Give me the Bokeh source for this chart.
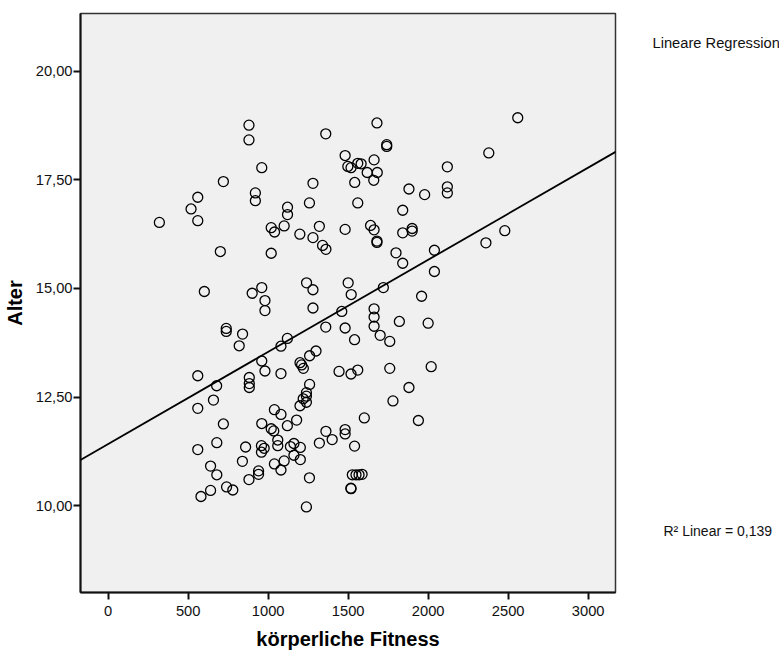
from bokeh.plotting import figure
from bokeh.layouts import row
from bokeh.models import Range1d, FixedTicker, Slope
from bokeh.core.properties import value
from bokeh.embed import file_html
from bokeh.resources import INLINE

# körperliche Fitness (x) and Alter (y)
fitness = [
    880, 880, 1360, 960, 720, 1280, 560, 920, 920, 518, 560, 320, 1258, 1121, 1121, 1100,
    1019, 1040, 1320, 1198, 1280, 1340, 1361, 701, 1019, 601, 900, 960, 980, 980, 1240,
    1280, 1280,
    1680, 2560, 1741, 1741, 2379, 1481, 1662, 1498, 1518, 1560, 1581, 2120, 1619, 1682,
    1660, 1541, 1880, 1978, 2120, 2120, 1560, 1841, 1481, 1640, 1662, 1841, 1900, 1900,
    1680, 1680, 1799, 1841, 2039, 2361, 2479, 2039, 1500, 1519, 1720, 1959,
    1662, 1662, 1662, 1820, 2000, 1460, 1481, 1540, 1700, 1760, 1443, 1518, 1560, 1760,
    2019, 1880, 1780, 1601, 1939, 1481, 1481, 1540, 1526, 1549, 1568, 1587, 1517, 1518,
    738, 738, 840, 819, 1360, 1120, 1080, 560, 678, 960, 980, 1080, 882, 882, 882, 1299,
    1259, 1199, 1209, 1220, 560, 658, 1259, 1239, 1239, 1219, 1239, 1199, 1039, 1080,
    1178, 720, 960, 1019, 1035, 1120, 1361, 1400, 1320, 1060, 1060, 1161, 1139, 1201,
    958, 975, 958, 859, 679, 560, 1161, 1100, 1201, 839, 1039, 1080, 640, 679, 940, 940,
    880, 1258, 740, 779, 640, 580, 1239,
]
alter = [
    18.76, 18.42, 18.56, 17.78, 17.46, 17.42, 17.10, 17.20, 17.02, 16.83, 16.56, 16.52,
    16.97, 16.87, 16.70, 16.44, 16.40, 16.30, 16.43, 16.25, 16.17, 15.99, 15.90, 15.85,
    15.81, 14.93, 14.89, 15.02, 14.72, 14.49, 15.13, 14.97, 14.55,
    18.81, 18.93, 18.31, 18.27, 18.12, 18.06, 17.96, 17.81, 17.78, 17.88, 17.87, 17.80,
    17.67, 17.67, 17.49, 17.44, 17.29, 17.16, 17.34, 17.20, 16.97, 16.80, 16.36, 16.45,
    16.35, 16.28, 16.38, 16.32, 16.09, 16.06, 15.82, 15.58, 15.88, 16.05, 16.33, 15.39,
    15.13, 14.86, 15.02, 14.82,
    14.53, 14.34, 14.13, 14.24, 14.20, 14.47, 14.09, 13.82, 13.92, 13.78, 13.09, 13.03,
    13.12, 13.16, 13.20, 12.72, 12.41, 12.02, 11.96, 11.75, 11.65, 11.37, 10.71, 10.71,
    10.71, 10.72, 10.40, 10.39,
    14.08, 14.01, 13.95, 13.68, 14.11, 13.85, 13.67, 12.99, 12.76, 13.33, 13.10, 13.04,
    12.95, 12.81, 12.72, 13.56, 13.45, 13.29, 13.24, 13.16, 12.24, 12.43, 12.79, 12.60,
    12.52, 12.46, 12.38, 12.30, 12.21, 12.10, 11.97, 11.88, 11.89, 11.77, 11.72, 11.84,
    11.71, 11.52, 11.44, 11.51, 11.38, 11.43, 11.36, 11.34, 11.38, 11.32, 11.23, 11.35,
    11.45, 11.29, 11.16, 11.03, 11.06, 11.02, 10.96, 10.82, 10.91, 10.71, 10.80, 10.72,
    10.60, 10.64, 10.43, 10.36, 10.35, 10.21, 9.97,
]

# regression line
reg_intercept = 11.42
reg_slope = 0.00212
r2_text = "R\u00b2 Linear = 0,139"
legend_text = "Lineare Regression"

x_ticks = [0, 500, 1000, 1500, 2000, 2500, 3000]
x_tick_labels = ["0", "500", "1000", "1500", "2000", "2500", "3000"]
y_ticks = [10, 12.5, 15, 17.5, 20]
y_tick_labels = ["10,00", "12,50", "15,00", "17,50", "20,00"]

FONT = "Liberation Sans"

p = figure(
    width=619, height=655, frame_width=535, frame_height=579,
    min_border_left=79, min_border_right=5, min_border_top=13, min_border_bottom=63,
    x_range=Range1d(-173, 3171), y_range=Range1d(8.0, 21.33),
    output_backend="svg", toolbar_location=None,
)
p.background_fill_color = "#f0f0f0"
p.border_fill_color = "white"
p.outline_line_color = "#333333"
p.outline_line_width = 1.5
p.xgrid.visible = False
p.ygrid.visible = False

for ax in (p.xaxis[0], p.yaxis[0]):
    ax.axis_line_color = "#111111"
    ax.axis_line_width = 2
    ax.major_tick_line_color = "#111111"
    ax.major_tick_line_width = 2
    ax.major_tick_out = 7
    ax.major_tick_in = 0
    ax.minor_tick_line_color = None
    ax.major_label_text_font = FONT
    ax.major_label_text_font_size = "14.7px"
    ax.major_label_text_color = "#111111"
    ax.axis_label_text_font = FONT
    ax.axis_label_text_font_style = "bold"
    ax.axis_label_text_font_size = "20px"
    ax.axis_label_text_color = "#000000"

p.xaxis.ticker = FixedTicker(ticks=x_ticks)
p.xaxis.major_label_overrides = dict(zip(x_ticks, x_tick_labels))
p.yaxis.ticker = FixedTicker(ticks=y_ticks)
p.yaxis.major_label_overrides = dict(zip(y_ticks, y_tick_labels))
p.xaxis.axis_label = "körperliche Fitness"
p.yaxis.axis_label = "Alter"
p.xaxis.major_label_standoff = 6
p.yaxis.major_label_standoff = 1
p.xaxis.axis_label_standoff = 9
p.yaxis.axis_label_standoff = 7

p.add_layout(Slope(gradient=reg_slope, y_intercept=reg_intercept,
                   line_color="black", line_width=1.8))

p.scatter(fitness, alter, size=10, marker="circle", fill_color=None,
          line_color="black", line_width=1.3)

# side panel with the fit-line legend and R² text (pixel coordinates, top-down)
side = figure(
    width=160, height=655, frame_width=160, frame_height=655,
    min_border=0, x_range=Range1d(0, 160), y_range=Range1d(655, 0),
    output_backend="svg", toolbar_location=None,
)
side.axis.visible = False
side.grid.visible = False
side.outline_line_color = None
side.background_fill_color = "white"
side.border_fill_color = "white"
side.text(x=[32], y=[29.5], text=[legend_text],
          text_font=value(FONT), text_font_size="14.7px", text_color="#111111",
          text_baseline="alphabetic", text_align="left")
side.text(x=[43], y=[517.5], text=[r2_text],
          text_font=value(FONT), text_font_size="14px", text_color="#111111",
          text_baseline="alphabetic", text_align="left")

layout = row(p, side, spacing=0)
open("out.html", "w").write(file_html(layout, INLINE))
